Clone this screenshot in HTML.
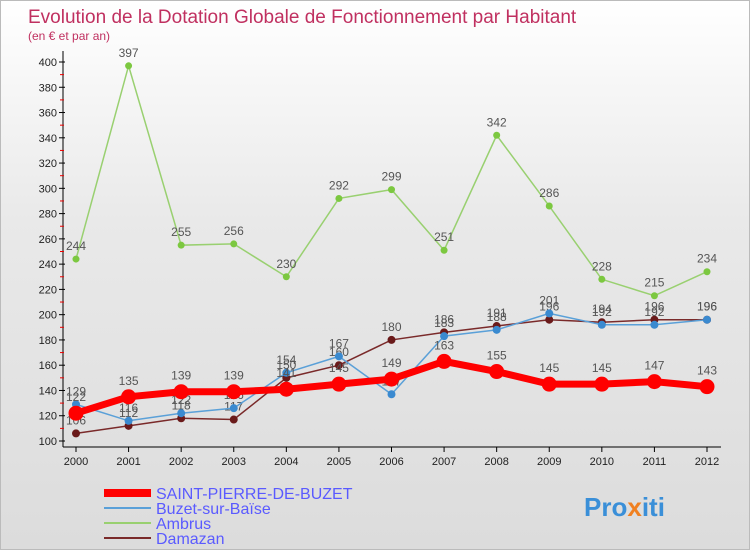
<!DOCTYPE html>
<html><head><meta charset="utf-8"><style>
body{margin:0;width:750px;height:550px;overflow:hidden;font-family:"Liberation Sans",sans-serif}
#wrap{position:relative;width:748px;height:548px;border:1px solid #bbb;background:linear-gradient(#fff 0%,#e9e9e9 40%,#dcdcdc 100%)}
svg text{font-family:"Liberation Sans",sans-serif}
</style></head><body>
<div id="wrap">
<svg id="chart" width="750" height="550">
<text x="27" y="22" font-size="19" fill="#c03060">Evolution de la Dotation Globale de Fonctionnement par Habitant</text>
<text x="27" y="39" font-size="12" fill="#c03060">(en € et par an)</text>
<g id="axes"></g><g id="series"></g><g id="legend"></g>
<text x="583" y="515" font-size="26" font-weight="bold" fill="#3a8fd8">Pro<tspan fill="#f08020">x</tspan><tspan fill="#3a8fd8">iti</tspan></text>
</svg></div>
<script>
const years=[2000,2001,2002,2003,2004,2005,2006,2007,2008,2009,2010,2011,2012];
const yTicks=[100,120,140,160,180,200,220,240,260,280,300,320,340,360,380,400];
const saintPierre=[122,135,139,139,141,145,149,163,155,145,145,147,143];
const buzet=[129,116,122,126,154,167,137,183,188,201,192,192,196];
const ambrus=[244,397,255,256,230,292,299,251,342,286,228,215,234];
const damazan=[106,112,118,117,150,160,180,186,191,196,194,196,196];
const NS="http://www.w3.org/2000/svg";
const X=i=>75+i*(706-75)/12;
const Y=v=>440-(v-100)*(440-61)/300;
function mk(t,a,p){const e=document.createElementNS(NS,t);for(const k in a)e.setAttribute(k,a[k]);p.appendChild(e);return e;}
const ax=document.getElementById('axes');
let l=mk('line',{x1:62,y1:50,x2:62,y2:446,stroke:'#000'},ax);


l=mk('line',{x1:62,y1:446,x2:720,y2:446,stroke:'#000'},ax);


yTicks.forEach((v,i)=>{
 mk('line',{x1:58,y1:Y(v),x2:64,y2:Y(v),stroke:'#000'},ax);
 if(i<yTicks.length-1)mk('line',{x1:59,y1:Y(v+10),x2:63,y2:Y(v+10),stroke:'#e00'},ax);
 const t=mk('text',{x:56,y:Y(v)+4,'font-size':11,'text-anchor':'end',fill:'#222'},ax);t.textContent=v;
 
 
});
years.forEach((y,i)=>{
 mk('line',{x1:X(i),y1:446,x2:X(i),y2:451,stroke:'#000'},ax);
 const t=mk('text',{x:X(i),y:464,'font-size':11,'text-anchor':'middle',fill:'#222'},ax);t.textContent=y;
 
 
});
const sg=document.getElementById('series');
function draw(data,color,w,r,name,dot){
 const g=mk('g',{},sg);
 
 
 mk('polyline',{points:data.map((v,i)=>X(i)+','+Y(v)).join(' '),fill:'none',stroke:color,'stroke-width':w},g);
 data.forEach((v,i)=>{
  const c=mk('circle',{cx:X(i),cy:Y(v),r:r,fill:dot},g);
  
  
  const t=mk('text',{x:X(i),y:Y(v)-9-(r>5?3:0),'font-size':12,'text-anchor':'middle',fill:'#555'},g);t.textContent=v;
  
  
 });
}
draw(ambrus,'#99d070',1.5,3.5,'ambrus','#7cc840');
draw(damazan,'#7a2a2a',1.5,4,'damazan','#6a1a1a');
draw(buzet,'#5aa0d8',1.5,4,'buzet','#3a8ad0');
draw(saintPierre,'#ff0000',7,7.5,'saint-pierre','#ff0000');
const lg=document.getElementById('legend');
const items=[['SAINT-PIERRE-DE-BUZET','#ff0000',8],['Buzet-sur-Baïse','#5aa0d8',2],['Ambrus','#99d070',2],['Damazan','#7a2a2a',2]];
items.forEach((it,i)=>{
 const y=492+i*15;
 const g=mk('g',{},lg);
 
 
 mk('line',{x1:103,y1:y,x2:150,y2:y,stroke:it[1],'stroke-width':it[2]},g);
 const t=mk('text',{x:155,y:y+6,'font-size':16,fill:'#5a5aff'},g);t.textContent=it[0];
});
</script></body></html>
